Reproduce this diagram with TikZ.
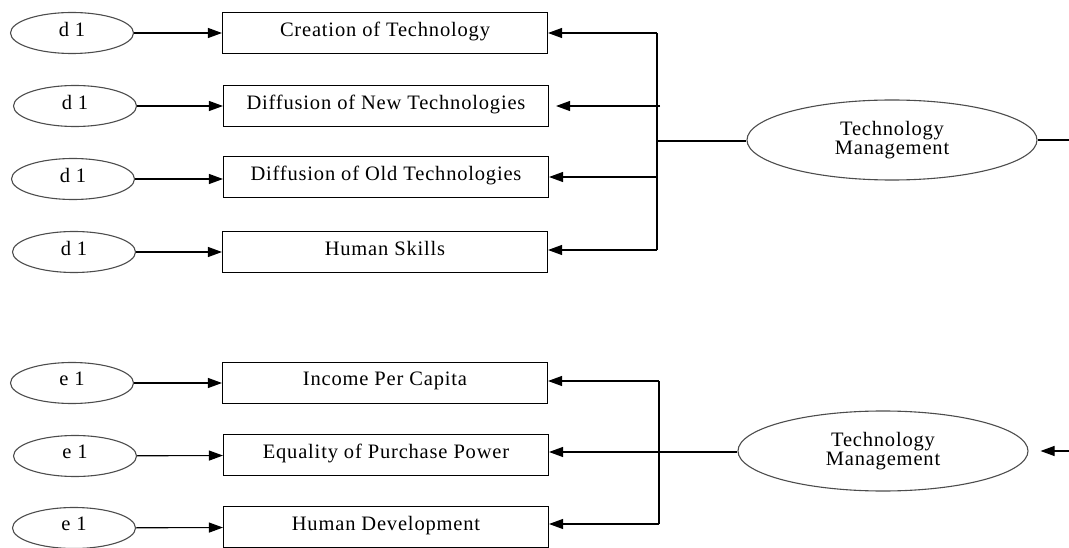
\documentclass[tikz,border=0pt]{standalone}
\usepackage{fontspec}
\setmainfont{Liberation Serif}[LetterSpace=4]
\usetikzlibrary{shapes.geometric}
\usetikzlibrary{arrows.meta}
\usetikzlibrary{positioning}

\begin{document}
\begin{tikzpicture}[x=1pt,y=-1pt,>={Triangle[length=14pt,width=10pt]},line width=1.1pt,
    err node/.style={ellipse,draw=black!70,minimum width=123pt,minimum height=41pt,inner sep=0pt,text depth=8pt,font=\fontsize{20.5}{18}\selectfont},
    ind node/.style={rectangle,draw,minimum width=325pt,minimum height=41pt,inner sep=0pt,text depth=8pt,font=\fontsize{20.5}{18}\selectfont},
    lat node/.style={ellipse,draw=black!70,minimum width=290pt,minimum height=80pt,inner sep=0pt,align=center,font=\fontsize{20.5}{18.5}\selectfont}]
   \useasboundingbox (0,0) rectangle (1069,548);
   \begin{scope}
     % technology management block
     \node[err node] (d1) at (72,33) {d 1};
     \node[err node] (d2) at (75,106) {d 1};
     \node[err node] (d3) at (73,179) {d 1};
     \node[err node] (d4) at (74,252) {d 1};
     \node[ind node] (cre) at (385,33) {Creation of Technology};
     \node[ind node] (dnew) at (386,106) {Diffusion of New Technologies};
     \node[ind node] (dold) at (386,177) {Diffusion of Old Technologies};
     \node[ind node] (hs) at (385,252) {Human Skills};
     \node[lat node] (tm1) at (892,140) {Technology\\Management};
     \coordinate (ja) at (657,33);
     \coordinate (jb) at (660,106);
     \coordinate (jc) at (657,177);
     \coordinate (jd) at (657,250);
     \coordinate (jm) at (657,141);
     \coordinate (out1) at (1069,140);
      \path[->] (d1) edge (cre);
      \path[->] (d2) edge (dnew);
      \path[->] (d3.east) edge (d3.east -| dold.west);
      \path[->] (d4) edge (hs);
      \draw (ja) -- (jd);
      \path[->] (ja) edge (ja -| cre.east);
      \path[->,shorten >=7pt] (jb) edge (jb -| dnew.east);
      \path[->] (jc) edge (jc -| dold.east);
      \path[->] (jd) edge (jd -| hs.east);
      \path[-] (jm) edge (jm -| tm1.west);
      \path[-] (tm1.east) edge (out1);
   \end{scope}
   \begin{scope}
     % welfare block
     \node[err node] (e1) at (72,383) {e 1};
     \node[err node] (e2) at (75,456) {e 1};
     \node[err node] (e3) at (74,528) {e 1};
     \node[ind node] (inc) at (385,383) {Income Per Capita};
     \node[ind node] (eq) at (386,455) {Equality of Purchase Power};
     \node[ind node] (hd) at (386,527) {Human Development};
     \node[lat node] (tm2) at (883,451) {Technology\\Management};
     \coordinate (ka) at (659,381);
     \coordinate (kb) at (659,452);
     \coordinate (kc) at (659,524);
     \coordinate (in2) at (1069,451);
      \path[->] (e1) edge (inc);
      \path[->] (e2) edge (eq);
      \path[->] (e3) edge (hd);
      \draw (ka) -- (kc);
      \path[->] (ka) edge (ka -| inc.east);
      \path[->] (kb) edge (kb -| eq.east);
      \path[->] (kc) edge (kc -| hd.east);
      \path[-] (kb -| tm2.west) edge (kb);
      \path[->,shorten >=12pt] (in2) edge (tm2.east);
   \end{scope}
\end{tikzpicture}
\end{document}
